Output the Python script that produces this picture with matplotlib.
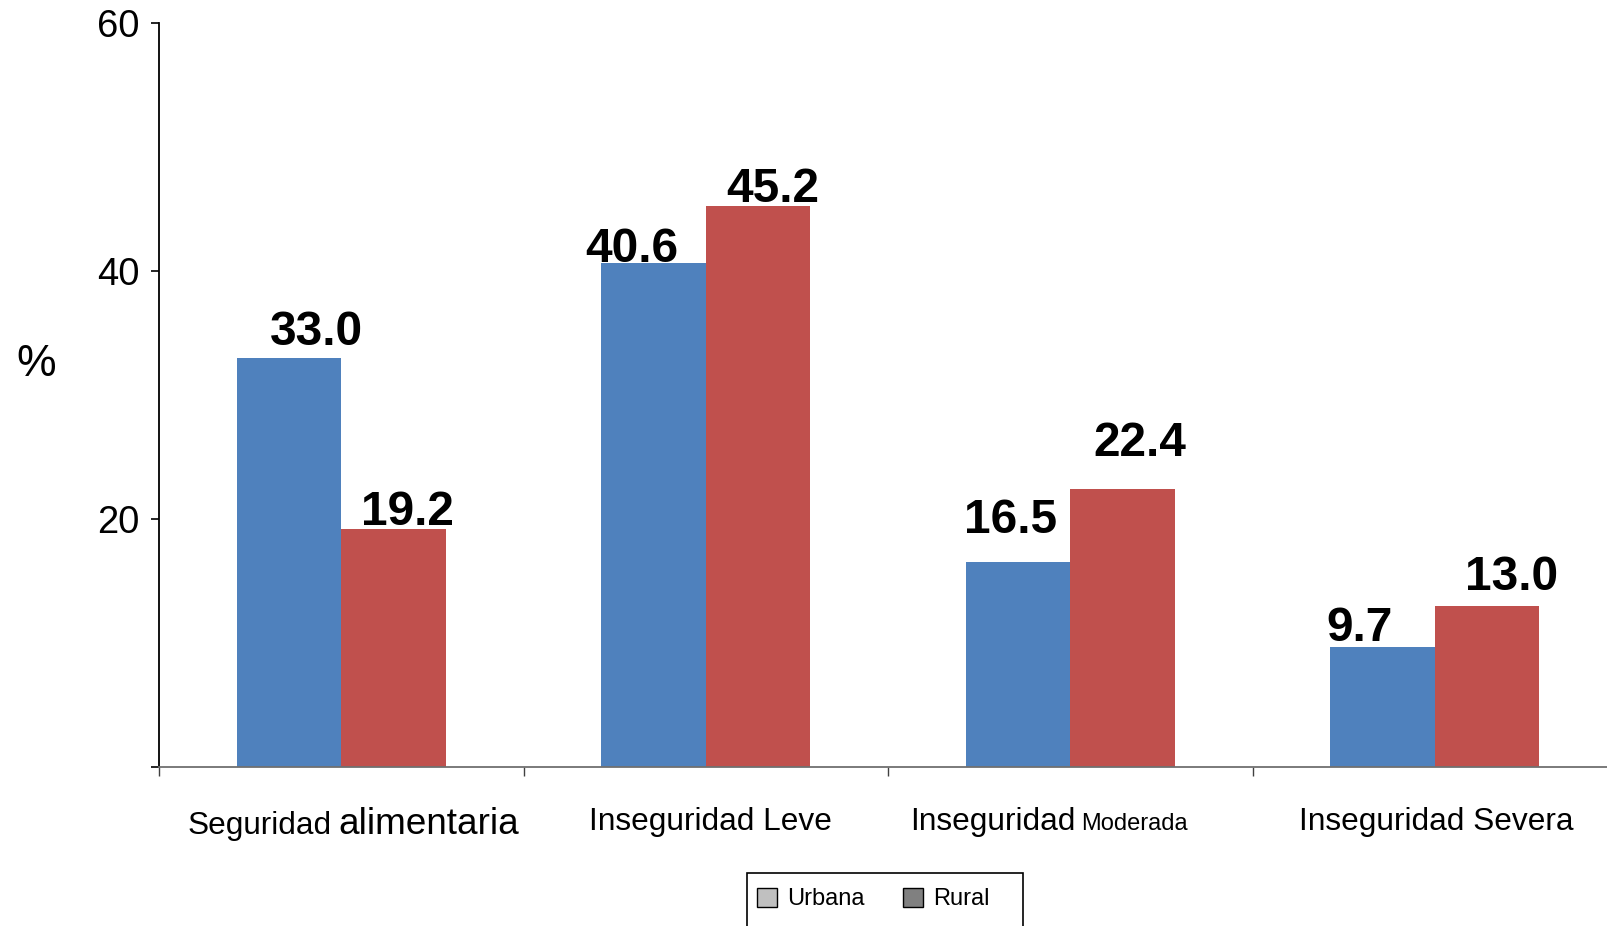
import matplotlib.pyplot as plt
from matplotlib.patches import Patch, Rectangle
import numpy as np

plt.rcParams['font.family'] = ['Liberation Sans', 'DejaVu Sans']

# datos
categorias = [
    [("Seguridad", 22.7), ("alimentaria", 26.6)],
    [("Inseguridad Leve", 22.8)],
    [("Inseguridad", 22.8), ("Moderada", 17)],
    [("Inseguridad Severa", 22.8)],
]
urbana = [33.0, 40.6, 16.5, 9.7]
rural = [19.2, 45.2, 22.4, 13.0]
series = ["Urbana", "Rural"]

# desplazamiento de etiquetas (px) como en el original
off_urbana = [(28, 13), (-22, 1), (-7, 29), (-23, 6)]
off_rural = [(14, 4), (15, 4), (17, 33), (25, 16)]
off_cat = [12, 5, -21, 2]

W, H = 1608, 926
fig = plt.figure(figsize=(W / 100, H / 100), dpi=100)
ax = fig.add_axes([159 / W, 1 - 767 / H, 1458 / W, (767 - 22.6) / H])

x = np.arange(len(urbana))
w = 0.287
azul = "#4F81BD"
rojo = "#C0504D"
b1 = ax.bar(x - w / 2, urbana, w, color=azul, linewidth=0)
b2 = ax.bar(x + w / 2, rural, w, color=rojo, linewidth=0)

for bars, vals, offs in [(b1, urbana, off_urbana), (b2, rural, off_rural)]:
    for b, v, (dx, dy) in zip(bars, vals, offs):
        ax.annotate(f"{v:.1f}", (b.get_x() + b.get_width() / 2, v),
                    xytext=(dx, dy), textcoords="offset pixels",
                    ha="center", va="baseline", fontsize=34.5,
                    fontweight="bold", color="black")

ax.set_xlim(-0.5, 3.5)
ax.set_ylim(0, 60)
ax.set_yticks([0, 20, 40, 60])
ax.set_yticklabels(["", "20", "40", "60"])
ax.set_xticks(np.arange(-0.5, 3.5, 1.0))
ax.set_xticklabels([])
ax.tick_params(axis="y", direction="out", length=6, width=1.2, labelsize=27.5, pad=8)
ax.tick_params(axis="x", direction="out", length=6.5, width=1.0, color="#404040")
for s in ["top", "right"]:
    ax.spines[s].set_visible(False)
ax.spines["left"].set_color("black")
ax.spines["left"].set_linewidth(1.3)
ax.spines["bottom"].set_color("#707070")
ax.spines["bottom"].set_linewidth(1.3)

fig.text(36 / W, 1 - 365 / H, "%", fontsize=32, ha="center", va="center")

# etiquetas de categoría con tamaños mezclados
fig.canvas.draw()
r = fig.canvas.get_renderer()
base_y = [834, 830, 830, 830]
for i, partes in enumerate(categorias):
    textos = []
    for t, fs in partes:
        tx = fig.text(0, 1 - base_y[i] / H, t, fontsize=fs, va="baseline", ha="left")
        textos.append(tx)
    esp = 6
    anchos = [tx.get_window_extent(r).width for tx in textos]
    total = sum(anchos) + esp * (len(anchos) - 1)
    cx = ax.transData.transform((x[i], 0))[0] + off_cat[i]
    pos = cx - total / 2
    for tx, a in zip(textos, anchos):
        tx.set_x(pos / W)
        pos += a + esp

# leyenda (marco cortado en el borde inferior)
handles = [Patch(facecolor="#C0C0C0", edgecolor="black", linewidth=1),
           Patch(facecolor="#808080", edgecolor="black", linewidth=1)]
leg = fig.legend(handles, series, loc="center left",
                 bbox_to_anchor=(745 / W, 1 - 899 / H), ncol=2, frameon=False,
                 fontsize=17, handlelength=0.85, handleheight=0.85,
                 handletextpad=0.45, columnspacing=1.6, borderpad=0)
fig.patches.append(Rectangle((747 / W, 1 - 950 / H), (1023 - 747) / W, (950 - 873) / H,
                             transform=fig.transFigure, fill=False,
                             edgecolor="black", linewidth=1.2))

fig.savefig("out.png", dpi=100)
